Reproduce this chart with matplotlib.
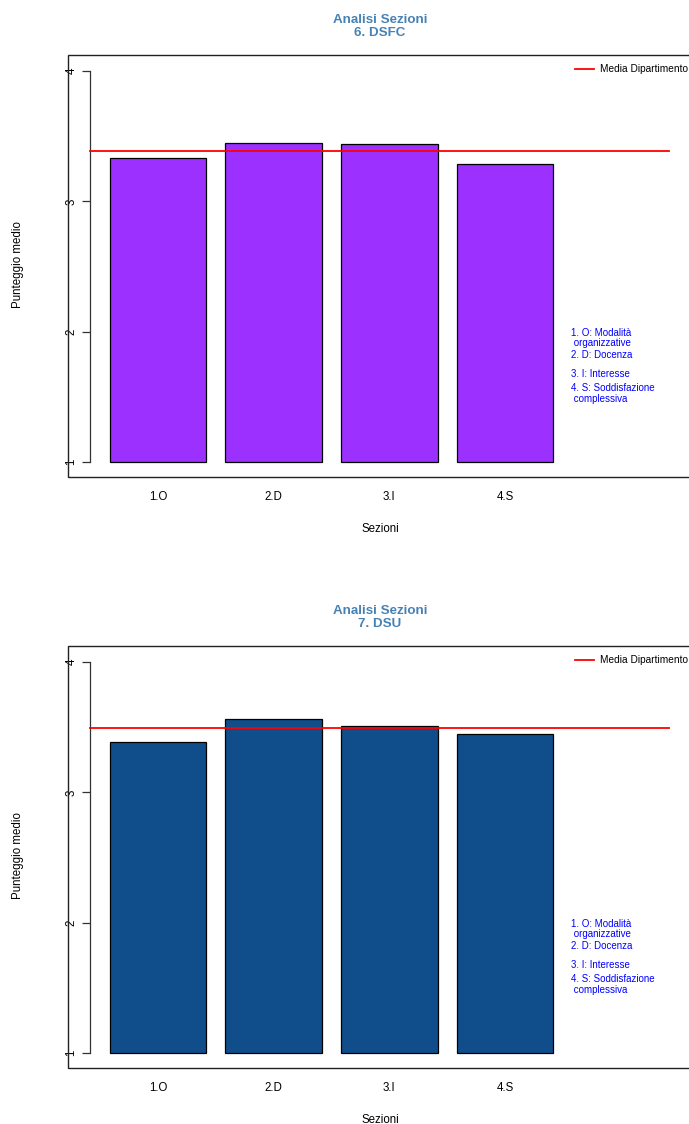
import matplotlib
matplotlib.use("Agg")
import matplotlib.pyplot as plt
from matplotlib.patches import Rectangle

plt.rcParams['font.family'] = ['Liberation Sans', 'DejaVu Sans']

categories = ["1.O", "2.D", "3.I", "4.S"]
titles = ["Analisi Sezioni\n6. DSFC", "Analisi Sezioni\n7. DSU"]
values_dsfc = [3.33, 3.45, 3.44, 3.29]
values_dsu = [3.39, 3.56, 3.51, 3.45]
means = [3.39, 3.49]
bar_colors = ["#9B30FF", "#104E8B"]
legend_label = "Media Dipartimento"
notes = ["1. O: Modalità", " organizzative", "2. D: Docenza",
         "3. I: Interesse", "4. S: Soddisfazione", " complessiva"]
note_y = [1.99, 1.91, 1.82, 1.675, 1.565, 1.48]
yticks = [1, 2, 3, 4]

W, H = 689, 1124
fig = plt.figure(figsize=(W / 100, H / 100), dpi=100)

panels = [(values_dsfc, 55), (values_dsu, 646)]
centers = [0.7, 1.9, 3.1, 4.3]

for i, (vals, top_px) in enumerate(panels):
    left_px, right_px = 68, 692
    bottom_px = top_px + 422
    ax = fig.add_axes([left_px / W, 1 - bottom_px / H,
                       (right_px - left_px) / W, 422 / H])
    ax.set_xlim(-0.2334, 6.24)
    ax.set_ylim(1 - 15 / 130.3, 4 + 16 / 130.3)
    ax.bar(centers, [v - 1 for v in vals], bottom=1, width=1.0,
           color=bar_colors[i], edgecolor="black", linewidth=0.9, zorder=2)
    ax.plot([0, 6], [means[i], means[i]], color="red", lw=1.3, zorder=3)

    for s in ["top", "right", "bottom"]:
        ax.spines[s].set_visible(False)
    ax.spines["left"].set_position(("data", 0))
    ax.spines["left"].set_bounds(1, 4)
    ax.spines["left"].set_color("#333333")
    ax.spines["left"].set_linewidth(0.9)
    ax.set_yticks(yticks)
    ax.set_yticklabels([str(t) for t in yticks], rotation=90,
                       va="center", fontsize=8.3)
    ax.tick_params(axis="y", direction="out", length=5.8, width=0.9,
                   color="#333333", pad=3.5)
    ax.set_xticks(centers)
    ax.set_xticklabels(categories, fontsize=8.3)
    ax.tick_params(axis="x", length=0, pad=10)

    ax.add_patch(Rectangle((0, 0), 1, 1, transform=ax.transAxes, fill=False,
                           edgecolor="#222222", lw=1.0, clip_on=False, zorder=5))

    # legend
    ax.plot([5.03, 5.22], [4.015, 4.015], color="red", lw=1.3, clip_on=False)
    ax.text(5.29, 4.015, legend_label, fontsize=7.3, va="center", ha="left")

    for t, y in zip(notes, note_y):
        ax.text(4.98, y, t, fontsize=7.0, color="blue", va="center", ha="left")

    # title
    fig.text(380 / W, 1 - (top_px - 28.5) / H, titles[i], ha="center",
             va="center", fontsize=9.6, fontweight="bold", color="#4682B4",
             linespacing=1.2)
    fig.text(380 / W, 1 - (bottom_px + 52) / H, "Sezioni", ha="center",
             va="center", fontsize=8.3)
    fig.text(18 / W, 1 - (top_px + 210) / H, "Punteggio medio", ha="center",
             va="center", fontsize=8.3, rotation=90)

fig.savefig("out.png", dpi=100)
